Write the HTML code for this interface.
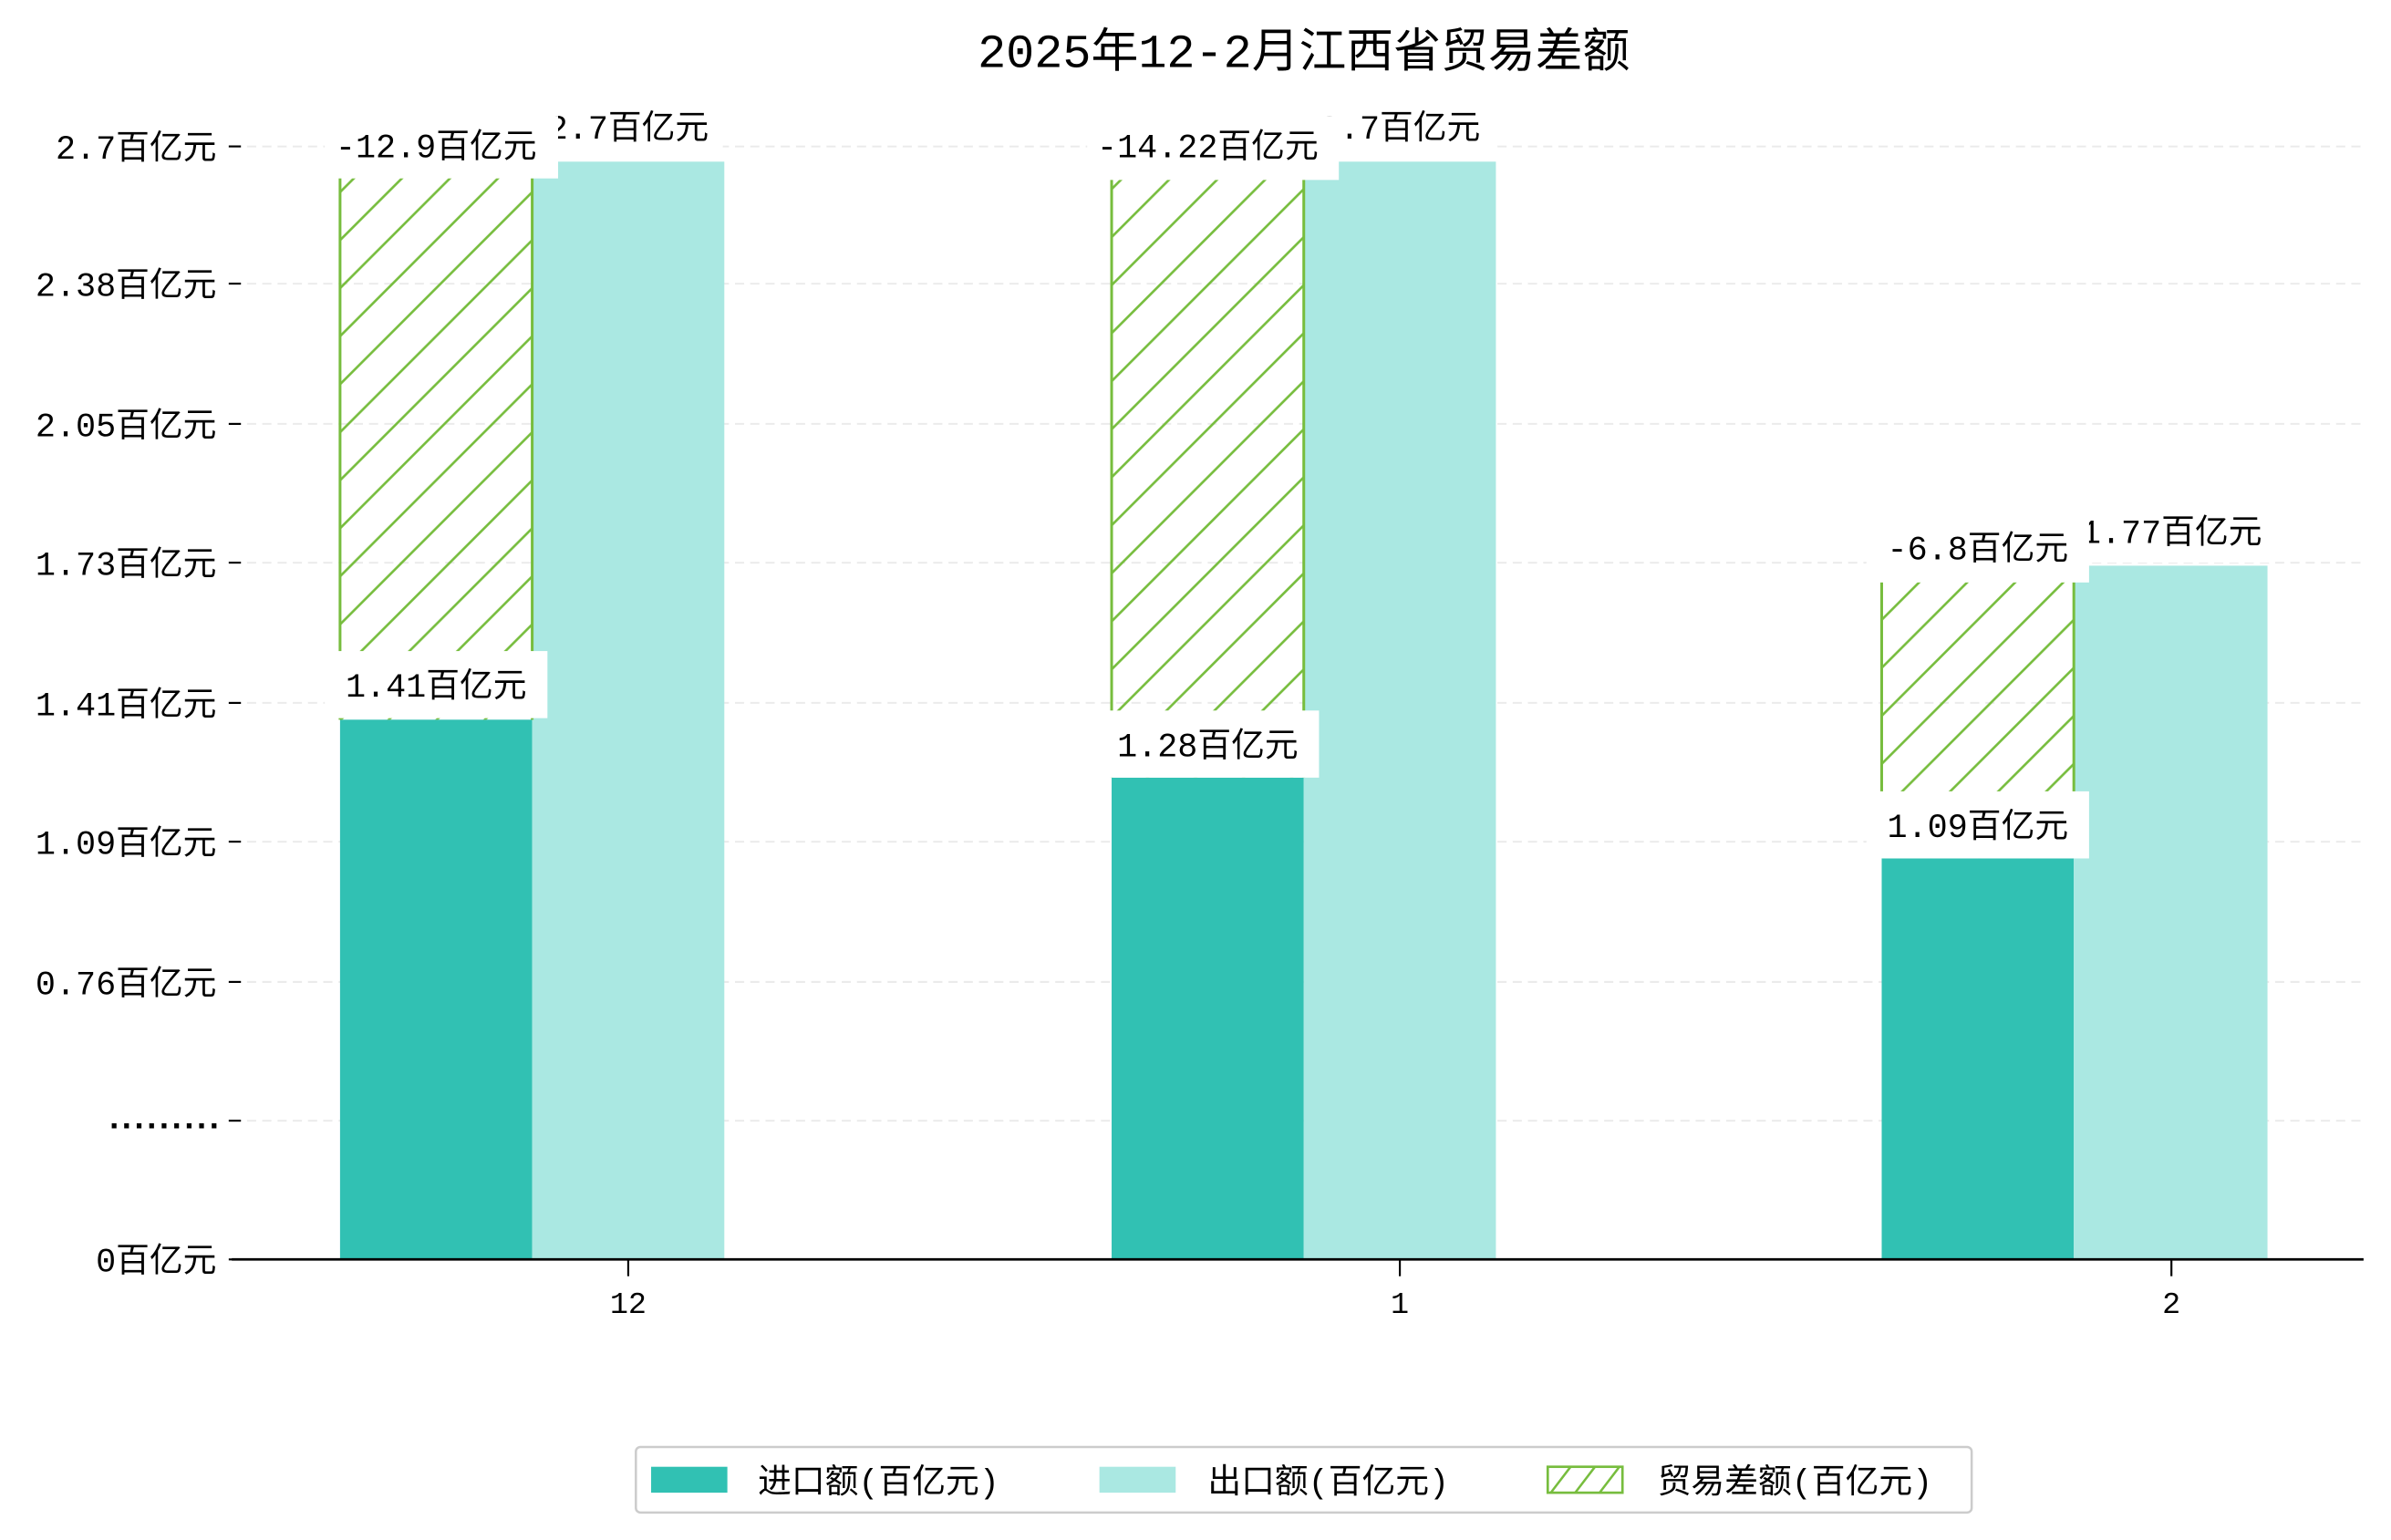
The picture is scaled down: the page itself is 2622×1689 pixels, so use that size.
<!DOCTYPE html>
<html><head><meta charset="utf-8"><style>
html,body{margin:0;padding:0;background:#fff;}
svg{display:block;}
text{font-family:"Liberation Mono","WenQuanYi Zen Hei","Noto Sans CJK SC",monospace;fill:#000;}
</style></head><body>
<svg width="2622" height="1689" viewBox="0 0 1568 1010" xmlns="http://www.w3.org/2000/svg">
<defs>
<pattern id="h" patternUnits="userSpaceOnUse" width="31.5" height="31.5" patternTransform="translate(223,0)">
<path d="M-2,33.5 L33.5,-2 M-2,2 L2,-2 M29.5,33.5 L33.5,29.5" stroke="#77bd3e" stroke-width="1.6"/>
</pattern>
</defs>
<rect width="1568" height="1010" fill="#fff"/>
<text x="855" y="44" font-size="31" text-anchor="middle">2025年12-2月江西省贸易差额</text>
<g stroke="#ebebeb" stroke-width="1.2" stroke-dasharray="6,4">
<line x1="152" x2="1550" y1="96" y2="96"/><line x1="152" x2="1550" y1="186" y2="186"/>
<line x1="152" x2="1550" y1="278" y2="278"/><line x1="152" x2="1550" y1="369" y2="369"/>
<line x1="152" x2="1550" y1="461" y2="461"/><line x1="152" x2="1550" y1="552" y2="552"/>
<line x1="152" x2="1550" y1="644" y2="644"/><line x1="152" x2="1550" y1="735" y2="735"/>
</g>
<g stroke="#000" stroke-width="1.3">
<line x1="150" x2="158" y1="96" y2="96"/><line x1="150" x2="158" y1="186" y2="186"/>
<line x1="150" x2="158" y1="278" y2="278"/><line x1="150" x2="158" y1="369" y2="369"/>
<line x1="150" x2="158" y1="461" y2="461"/><line x1="150" x2="158" y1="552" y2="552"/>
<line x1="150" x2="158" y1="644" y2="644"/><line x1="150" x2="158" y1="735" y2="735"/>
<line x1="150" x2="158" y1="826" y2="826"/>
<line x1="412" x2="412" y1="826" y2="837"/><line x1="918" x2="918" y1="826" y2="837"/><line x1="1424" x2="1424" y1="826" y2="837"/>
</g>
<g font-size="22" text-anchor="end">
<text x="142" y="104">2.7百亿元</text><text x="142" y="194">2.38百亿元</text>
<text x="142" y="286">2.05百亿元</text><text x="142" y="377">1.73百亿元</text>
<text x="142" y="469">1.41百亿元</text><text x="142" y="560">1.09百亿元</text>
<text x="142" y="652">0.76百亿元</text><text x="142" y="740" font-weight="bold" letter-spacing="-5">.........</text>
<text x="142" y="834">0百亿元</text>
</g>
<g font-size="20" text-anchor="middle">
<text x="412" y="861">12</text><text x="918" y="861">1</text><text x="1424" y="861">2</text>
</g>
<rect x="223" y="472" width="126" height="354" fill="#31c1b3"/>
<rect x="349" y="106" width="126" height="720" fill="#aae8e2"/>
<rect x="729" y="510" width="126" height="316" fill="#31c1b3"/>
<rect x="855" y="106" width="126" height="720" fill="#aae8e2"/>
<rect x="1234" y="563" width="126" height="263" fill="#31c1b3"/>
<rect x="1360" y="371" width="127" height="455" fill="#aae8e2"/>
<g stroke="#77bd3e" stroke-width="1.8">
<rect x="223" y="106" width="126" height="366" fill="url(#h)" stroke="none"/>
<line x1="223" x2="223" y1="106" y2="472"/><line x1="349" x2="349" y1="106" y2="472"/>
<rect x="729" y="106" width="126" height="404" fill="url(#h)" stroke="none"/>
<line x1="729" x2="729" y1="106" y2="510"/><line x1="855" x2="855" y1="106" y2="510"/>
<rect x="1234" y="371" width="126" height="192" fill="url(#h)" stroke="none"/>
<line x1="1234" x2="1234" y1="371" y2="563"/><line x1="1360" x2="1360" y1="371" y2="563"/>
</g>
<line x1="152" x2="1550" y1="826" y2="826" stroke="#000" stroke-width="1.6"/>
<g font-size="22" text-anchor="middle">
<rect x="350" y="64" width="124" height="40" fill="#fff"/><text x="412" y="91">2.7百亿元</text>
<rect x="856" y="64" width="124" height="40" fill="#fff"/><text x="918" y="91">2.7百亿元</text>
<rect x="1357" y="329" width="134" height="40" fill="#fff"/><text x="1424" y="356">1.77百亿元</text>
<rect x="213" y="76" width="153" height="41" fill="#fff"/><text x="286" y="103">-12.9百亿元</text>
<rect x="713" y="76" width="165" height="42" fill="#fff"/><text x="792" y="103">-14.22百亿元</text>
<rect x="1224" y="340" width="146" height="42" fill="#fff"/><text x="1297" y="367">-6.8百亿元</text>
<rect x="213" y="427" width="146" height="44" fill="#fff"/><text x="286" y="457">1.41百亿元</text>
<rect x="719" y="466" width="146" height="44" fill="#fff"/><text x="792" y="496">1.28百亿元</text>
<rect x="1224" y="519" width="146" height="44" fill="#fff"/><text x="1297" y="549">1.09百亿元</text>
</g>
<rect x="417" y="949" width="876" height="43" rx="3" fill="#fff" stroke="#cccccc" stroke-width="1.5"/>
<rect x="427" y="962" width="50" height="17" fill="#31c1b3"/>
<rect x="721" y="962" width="50" height="17" fill="#aae8e2"/>
<rect x="1015" y="962" width="49" height="17" fill="#fff" stroke="#77bd3e" stroke-width="1.6"/>
<path d="M1017,979 L1030,962 M1033,979 L1046,962 M1049,979 L1062,962" stroke="#77bd3e" stroke-width="1.5"/>
<g font-size="22">
<text x="497" y="979">进口额(百亿元)</text>
<text x="792" y="979">出口额(百亿元)</text>
<text x="1087" y="979">贸易差额(百亿元)</text>
</g>
</svg>
</body></html>
